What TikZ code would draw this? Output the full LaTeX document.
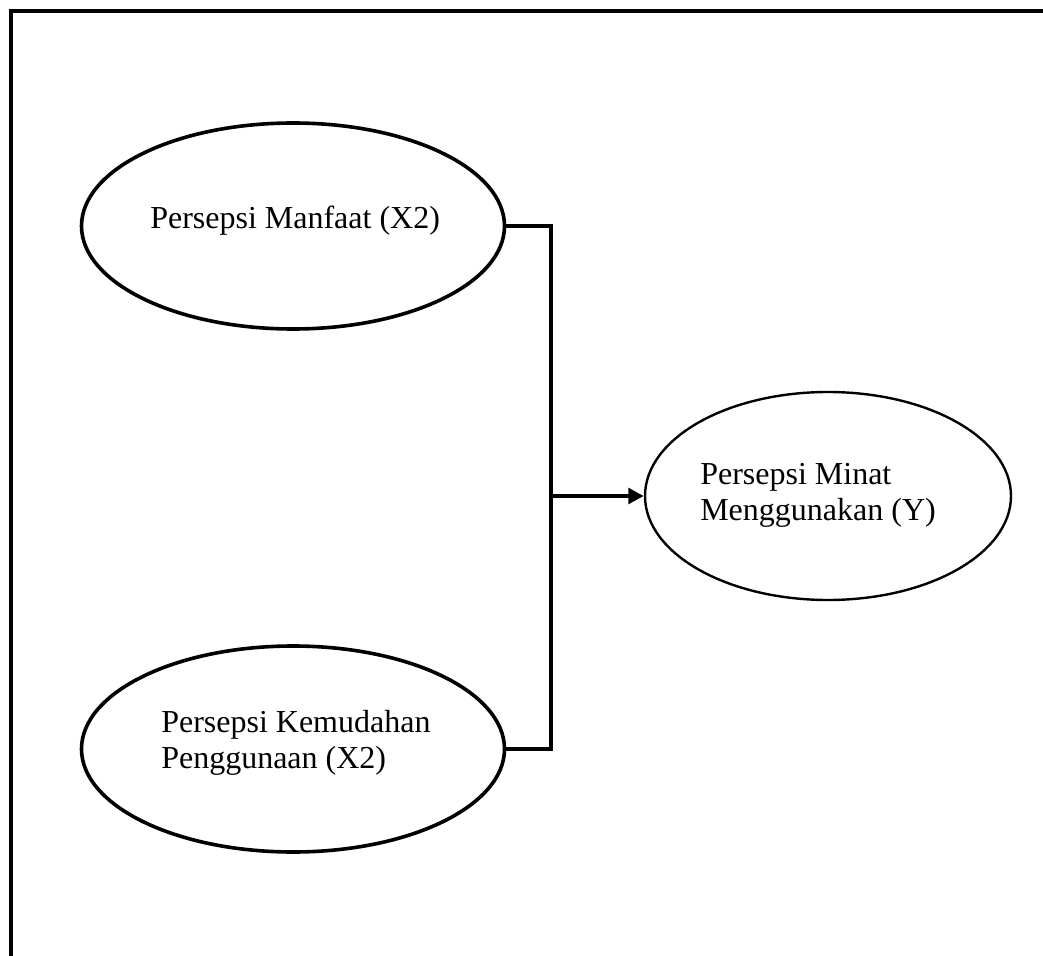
\documentclass[tikz,border=0pt]{standalone}
\usepackage{fontspec}
\setmainfont{Liberation Serif}
\usetikzlibrary{shapes.geometric,arrows.meta}
\begin{document}
\begin{tikzpicture}[x=0.75pt,y=-0.75pt,
  oval/.style={draw,ellipse,inner sep=0pt,line width=2.7pt},
  lbl/.style={font=\fontsize{24pt}{26.5pt}\selectfont,align=left,anchor=base west,inner sep=0pt},
  conn/.style={line width=3.2pt}]
\useasboundingbox (0,0) rectangle (1043,956);
\clip (0,0) rectangle (1043,956);
\draw[line width=3.2pt] (11,975) -- (11,11) -- (1060,11);
\node[oval,minimum width=317.25pt,minimum height=154.5pt] (e1) at (293,226) {};
\node[oval,minimum width=317.25pt,minimum height=154.5pt] (e2) at (293,749) {};
\node[oval,line width=1.8pt,minimum width=274.5pt,minimum height=156pt] (e3) at (828,496) {};
\node[lbl] (t1) at (150,228) {Persepsi Manfaat (X2)};
\node[lbl] (t2) at (161,768) {Persepsi Kemudahan\\Penggunaan (X2)};
\node[lbl] (t3) at (700,520) {Persepsi Minat\\Menggunakan (Y)};
\coordinate (j) at (551,496);
\draw[conn] (e1.east) -| (j) |- (e2.east);
\draw[conn,-{Triangle[length=11.5pt,width=11.5pt]}] (j) -- (e3.west);
\end{tikzpicture}
\end{document}
